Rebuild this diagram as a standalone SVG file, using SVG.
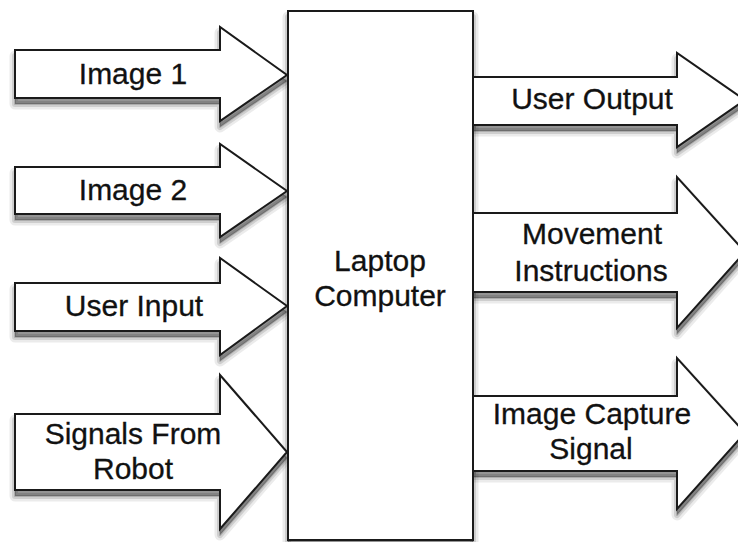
<svg xmlns="http://www.w3.org/2000/svg" xmlns:xlink="http://www.w3.org/1999/xlink" width="738" height="542" viewBox="0 0 738 542">
<defs>
<polygon id="p1" points="15,50 220,50 220,27 287,75 220,121 220,98 15,98"/>
<polygon id="p2" points="15,167 220,167 220,144 287,191 220,237 220,214 15,214"/>
<polygon id="p3" points="15,283 220,283 220,258 287,306 220,355 220,331 15,331"/>
<polygon id="p4" points="15,414 220,414 220,375 287,452 220,529 220,490 15,490"/>
<polygon id="p5" points="473,77 677,77 677,53 745,100 677,147 677,125 473,125"/>
<polygon id="p6" points="473,213 677,213 677,177 745,252 677,328 677,292 473,292"/>
<polygon id="p7" points="473,396 677,396 677,358 745,433 677,509 677,471 473,471"/>
<rect id="p8" x="288" y="11" width="185" height="529"/>
</defs>
<style>
.shape{fill:#fff;stroke:#1a1a1a;stroke-width:2;stroke-linejoin:miter}
.s1{fill:#000;fill-opacity:0.1;stroke:#000;stroke-opacity:0.08;stroke-width:11;stroke-linejoin:round}
.s2{fill:#000;fill-opacity:0.14;stroke:#000;stroke-opacity:0.12;stroke-width:6;stroke-linejoin:round}
.s3{fill:#000;fill-opacity:0.18;stroke:#000;stroke-opacity:0.16;stroke-width:2;stroke-linejoin:round}
.lbl{font-family:"Liberation Sans",Arial,Helvetica,sans-serif;font-size:30px;fill:#111;stroke:#111;stroke-width:0.3;text-anchor:middle}
</style>
<rect width="738" height="542" fill="#fff"/>
<g id="shadows" transform="translate(0,6)">
<use xlink:href="#p1" class="s1"/><use xlink:href="#p1" class="s2"/><use xlink:href="#p1" class="s3"/>
<use xlink:href="#p2" class="s1"/><use xlink:href="#p2" class="s2"/><use xlink:href="#p2" class="s3"/>
<use xlink:href="#p3" class="s1"/><use xlink:href="#p3" class="s2"/><use xlink:href="#p3" class="s3"/>
<use xlink:href="#p4" class="s1"/><use xlink:href="#p4" class="s2"/><use xlink:href="#p4" class="s3"/>
<use xlink:href="#p5" class="s1"/><use xlink:href="#p5" class="s2"/><use xlink:href="#p5" class="s3"/>
<use xlink:href="#p6" class="s1"/><use xlink:href="#p6" class="s2"/><use xlink:href="#p6" class="s3"/>
<use xlink:href="#p7" class="s1"/><use xlink:href="#p7" class="s2"/><use xlink:href="#p7" class="s3"/>
<use xlink:href="#p8" class="s1"/><use xlink:href="#p8" class="s2"/><use xlink:href="#p8" class="s3"/>
</g>
<g id="connectors">
<g id="arrow-image1">
<use xlink:href="#p1" class="shape"/>
<text class="lbl" x="133" y="84">Image 1</text>
</g>
<g id="arrow-image2">
<use xlink:href="#p2" class="shape"/>
<text class="lbl" x="133" y="200">Image 2</text>
</g>
<g id="arrow-userinput">
<use xlink:href="#p3" class="shape"/>
<text class="lbl" x="134" y="316">User Input</text>
</g>
<g id="arrow-signals">
<use xlink:href="#p4" class="shape"/>
<text class="lbl" x="133" y="444">Signals From</text>
<text class="lbl" x="133" y="479">Robot</text>
</g>
<g id="arrow-useroutput">
<use xlink:href="#p5" class="shape"/>
<text class="lbl" x="592" y="109">User Output</text>
</g>
<g id="arrow-movement">
<use xlink:href="#p6" class="shape"/>
<text class="lbl" x="592" y="244">Movement</text>
<text class="lbl" x="591" y="281">Instructions</text>
</g>
<g id="arrow-capture">
<use xlink:href="#p7" class="shape"/>
<text class="lbl" x="592" y="424">Image Capture</text>
<text class="lbl" x="591" y="459">Signal</text>
</g>
</g>
<g id="laptop">
<use xlink:href="#p8" class="shape"/>
<text class="lbl" x="380" y="271">Laptop</text>
<text class="lbl" x="380" y="306">Computer</text>
</g>
</svg>
